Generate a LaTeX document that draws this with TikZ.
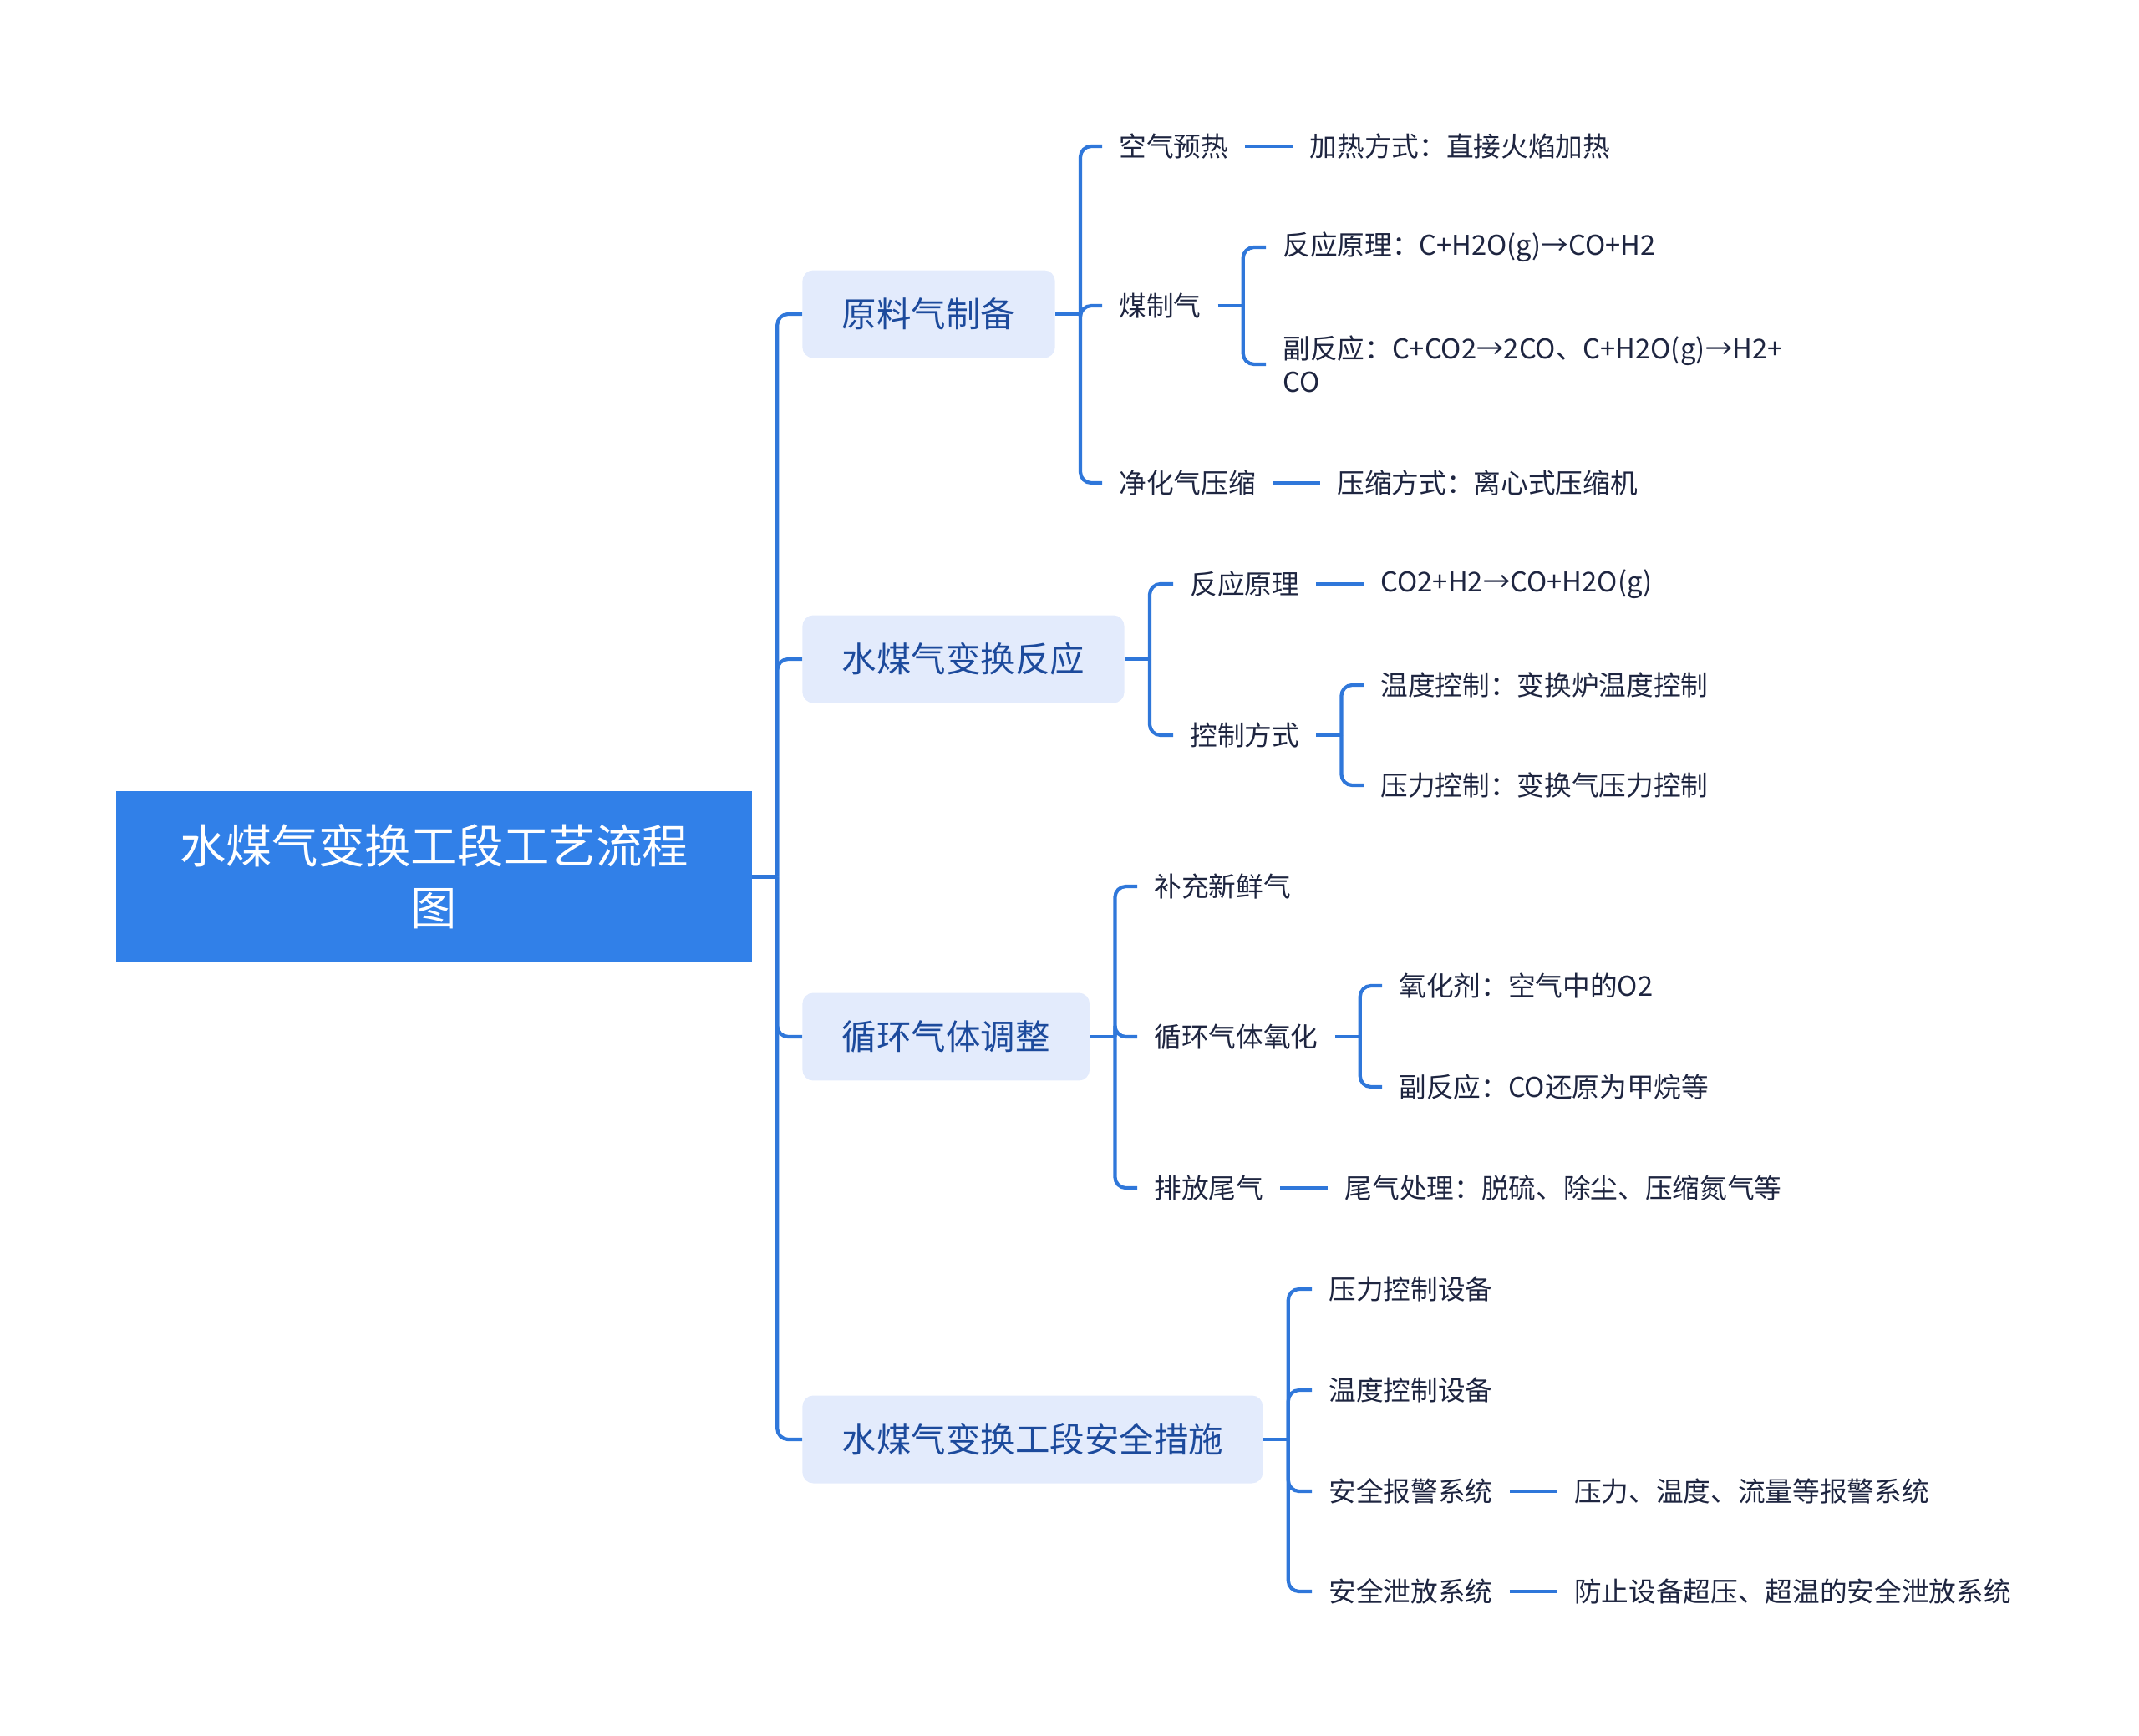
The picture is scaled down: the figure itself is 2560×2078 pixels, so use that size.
\documentclass[tikz,border=0pt]{standalone}
\usepackage{fontspec}
\newfontfamily\cjk{Noto Sans CJK SC}
\usetikzlibrary{positioning,calc}

\definecolor{rootblue}{HTML}{3180E8}
\definecolor{topicbg}{HTML}{E3EBFC}
\definecolor{topictxt}{HTML}{1C4A9C}
\definecolor{linkblue}{HTML}{2F77DA}
\definecolor{leaftxt}{HTML}{1E2540}

\begin{document}
\begin{tikzpicture}[x=0.02cm, y=-0.02cm, font=\cjk,
  root/.style={fill=rootblue, text=white, minimum width=15.22cm, minimum height=4.1cm,
    align=center, font=\cjk\fontsize{31.5}{42}\selectfont},
  topic/.style={fill=topicbg, text=topictxt, rounded corners=0.26cm, anchor=west,
    minimum height=2.1cm, inner xsep=0.95cm, font=\cjk\fontsize{23.6}{28}\selectfont},
  leaf/.style={text=leaftxt, anchor=west, inner xsep=0.4cm, inner ysep=0.1cm,
    font=\cjk\fontsize{18.6}{23}\selectfont},
  conn/.style={draw=linkblue, line width=2.4pt, rounded corners=0.26cm}]
  \useasboundingbox (0,0) rectangle (2560,2078);

  % root and main branches
  \node[root] (root) at (519.5,1049.5) {水煤气变换工段工艺流程\\图};
  \node[topic] (prep) at (960,376) {原料气制备};
  \node[topic] (shift) at (960,789) {水煤气变换反应};
  \node[topic] (cycle) at (960,1241) {循环气体调整};
  \node[topic] (safe) at (960,1723) {水煤气变换工段安全措施};

  % 原料气制备
  \node[leaf] (air) at (1319,175) {空气预热};
  \node[leaf, right=1.14cm of air] (airx) {加热方式：直接火焰加热};
  \node[leaf] (coal) at (1319,366) {煤制气};
  \node[leaf] (coala) at (1515,296) {反应原理：C+H2O(g)→CO+H2};
  \node[leaf, align=left] (coalb) at (1515,436) {副反应：C+CO2→2CO、C+H2O(g)→H2+\\CO};
  \node[leaf] (comp) at (1319,578) {净化气压缩};
  \node[leaf, right=1.14cm of comp] (compx) {压缩方式：离心式压缩机};

  % 水煤气变换反应
  \node[leaf] (prin) at (1404,699) {反应原理};
  \node[leaf, right=1.14cm of prin] (prinx) {CO2+H2→CO+H2O(g)};
  \node[leaf] (ctrl) at (1404,880) {控制方式};
  \node[leaf] (ctrla) at (1632,820) {温度控制：变换炉温度控制};
  \node[leaf] (ctrlb) at (1632,940) {压力控制：变换气压力控制};

  % 循环气体调整
  \node[leaf] (fresh) at (1361,1061) {补充新鲜气};
  \node[leaf] (oxid) at (1361,1241) {循环气体氧化};
  \node[leaf] (oxida) at (1654,1180) {氧化剂：空气中的O2};
  \node[leaf] (oxidb) at (1654,1301) {副反应：CO还原为甲烷等};
  \node[leaf] (tail) at (1361,1422) {排放尾气};
  \node[leaf, right=1.14cm of tail] (tailx) {尾气处理：脱硫、除尘、压缩氮气等};

  % 安全措施
  \node[leaf] (pdev) at (1570,1543) {压力控制设备};
  \node[leaf] (tdev) at (1570,1664) {温度控制设备};
  \node[leaf] (alarm) at (1570,1785) {安全报警系统};
  \node[leaf, right=1.14cm of alarm] (alarmx) {压力、温度、流量等报警系统};
  \node[leaf] (vent) at (1570,1905) {安全泄放系统};
  \node[leaf, right=1.14cm of vent] (ventx) {防止设备超压、超温的安全泄放系统};

  % brackets
  \foreach \p/\kids in {root/{prep,shift,cycle,safe}, prep/{air,coal,comp},
      coal/{coala,coalb}, shift/{prin,ctrl}, ctrl/{ctrla,ctrlb},
      cycle/{fresh,oxid,tail}, oxid/{oxida,oxidb}, safe/{pdev,tdev,alarm,vent}}{
    \draw[conn] (\p.east) -- ++(30,0);
    \foreach \c in \kids
      \draw[conn] ($(\p.east)+(30,0)$) |- (\c.west);
  }
  % single links
  \foreach \a/\b in {air/airx, comp/compx, prin/prinx, tail/tailx, alarm/alarmx, vent/ventx}
    \draw[conn] (\a) -- (\b);
\end{tikzpicture}
\end{document}
